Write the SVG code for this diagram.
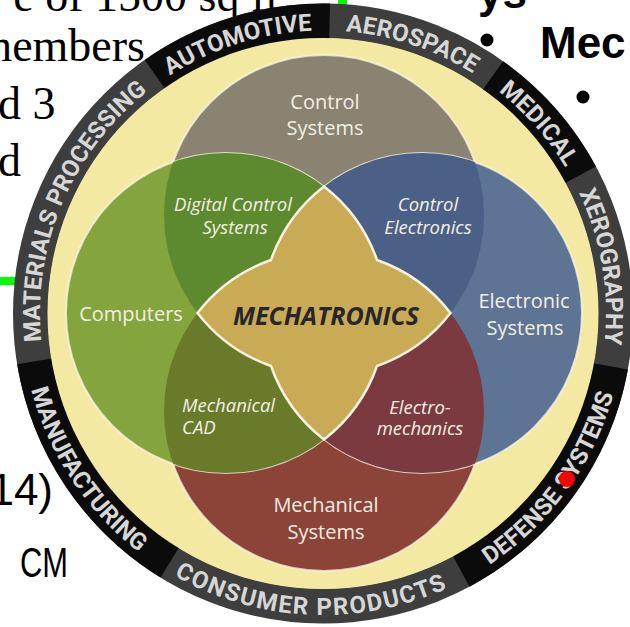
<svg xmlns="http://www.w3.org/2000/svg" xmlns:xlink="http://www.w3.org/1999/xlink" width="630" height="627" viewBox="0 0 630 627">
<style>
.serif{font-family:"Liberation Serif","Times New Roman",serif;font-size:46px;fill:#000}
.sans{font-family:"Liberation Sans",Arial,sans-serif;fill:#000}
.rt{font-family:Roboto,"Liberation Sans",sans-serif;font-weight:700;font-size:24px;fill:#d6d6d6}
.v{font-family:"Open Sans","Noto Sans",sans-serif;fill:#f3efe2;font-size:20px;text-anchor:middle}
.vi{font-style:italic;font-size:18.5px}
.seg{fill:none;stroke:#0b0b0b;stroke-width:35}
.circ{stroke:#fbf6e6;stroke-width:2;stroke-opacity:0.75}
</style>
<defs>
<clipPath id="cT"><circle cx="324" cy="215" r="160"/></clipPath>
<clipPath id="cB"><circle cx="324" cy="411" r="160"/></clipPath>
<clipPath id="cL"><circle cx="226" cy="313" r="160"/></clipPath>
<clipPath id="cR"><circle cx="422" cy="313" r="160"/></clipPath>
<path id="pAuto" d="M72.0,182.8 A283,283 0 0 1 453.7,62.5"/>
<path id="pAero" d="M195.8,60.7 A283,283 0 0 1 575.8,186.3"/>
<path id="pMed" d="M340.8,31.1 A283,283 0 0 1 605.4,331.3"/>
<path id="pXero" d="M487.3,83.1 A283,283 0 0 1 553.4,477.8"/>
<path id="pMat" d="M70.8,442.0 A283,283 0 0 1 240.3,42.9"/>
<path id="pDef" d="M370.2,611.3 A301.5,301.5 0 0 0 620.8,266.3"/>
<path id="pCons" d="M83.8,497.1 A301.5,301.5 0 0 0 545.3,517.2"/>
<path id="pManu" d="M27.6,253.4 A301.5,301.5 0 0 0 262.9,608.9"/>
</defs>

<g id="slide-text">
<text class="serif" x="279" y="11" text-anchor="end">e of 1500 sq ft</text>
<text class="serif" x="145" y="61" text-anchor="end">members</text>
<text class="serif" x="-2" y="119">d 3</text>
<text class="serif" x="-2" y="176">d</text>
<text class="sans" x="478" y="8" style="font-size:44px;font-weight:700">ys</text>
<circle cx="487" cy="40" r="6.5" fill="#000"/>
<text class="sans" x="540" y="58" style="font-size:44px;font-weight:700">Mec</text>
<circle cx="583" cy="97" r="6.5" fill="#000"/>
<text class="sans" x="53" y="505" text-anchor="end" style="font-size:44px">14)</text>
<text class="sans" x="20" y="577" textLength="48" lengthAdjust="spacingAndGlyphs" style="font-size:42px">CM</text>
<rect x="338" y="0" width="9" height="10" fill="#00ff00"/>
<rect x="0" y="277" width="18" height="8" fill="#00ff00"/>
</g>

<g id="ring">
<circle cx="323" cy="313.5" r="292.5" fill="none" stroke="#3e3e3e" stroke-width="35"/>
<path class="seg" d="M154.8,74.2 A292.5,292.5 0 0 1 329.6,21.1"/>
<path class="seg" d="M492.9,75.4 A292.5,292.5 0 0 1 580.5,174.8"/>
<path class="seg" d="M610.7,366.3 A292.5,292.5 0 0 1 461.2,571.3"/>
<path class="seg" d="M169.7,562.6 A292.5,292.5 0 0 1 34.4,361.3"/>
<circle cx="323" cy="313.5" r="275.5" fill="#f4e9a3"/>
<text class="rt"><textPath xlink:href="#pAuto" href="#pAuto" startOffset="50%" text-anchor="middle">AUTOMOTIVE</textPath></text>
<text class="rt"><textPath xlink:href="#pAero" href="#pAero" startOffset="50%" text-anchor="middle">AEROSPACE</textPath></text>
<text class="rt"><textPath xlink:href="#pMed" href="#pMed" startOffset="50%" text-anchor="middle">MEDICAL</textPath></text>
<text class="rt"><textPath xlink:href="#pXero" href="#pXero" startOffset="50%" text-anchor="middle">XEROGRAPHY</textPath></text>
<text class="rt"><textPath xlink:href="#pMat" href="#pMat" startOffset="50%" text-anchor="middle">MATERIALS PROCESSING</textPath></text>
<text class="rt"><textPath xlink:href="#pDef" href="#pDef" startOffset="50%" text-anchor="middle">DEFENSE SYSTEMS</textPath></text>
<text class="rt" style="letter-spacing:1.5px"><textPath xlink:href="#pCons" href="#pCons" startOffset="50%" text-anchor="middle">CONSUMER PRODUCTS</textPath></text>
<text class="rt"><textPath xlink:href="#pManu" href="#pManu" startOffset="50%" text-anchor="middle">MANUFACTURING</textPath></text>
</g>

<g id="venn">
<circle id="control-systems" class="circ" cx="324" cy="215" r="160" fill="#8a8372"/>
<circle id="mechanical-systems" class="circ" cx="324" cy="411" r="160" fill="#8b4437"/>
<circle id="computers" class="circ" cx="226" cy="313" r="160" fill="#84a43e"/>
<circle id="electronic-systems" class="circ" cx="422" cy="313" r="160" fill="#5e7494"/>
<circle id="digital-control" cx="226" cy="313" r="160" fill="#5d8a2f" clip-path="url(#cT)"/>
<circle id="control-electronics" cx="422" cy="313" r="160" fill="#4b6086" clip-path="url(#cT)"/>
<circle id="mechanical-cad" cx="226" cy="313" r="160" fill="#6a7a2b" clip-path="url(#cB)"/>
<circle id="electro-mechanics" cx="422" cy="313" r="160" fill="#7a3a3f" clip-path="url(#cB)"/>
<path id="mechatronics" d="M324,186.5 A160,160 0 0 1 377,260 A160,160 0 0 1 450.5,313 A160,160 0 0 1 377,366 A160,160 0 0 1 324,439.5 A160,160 0 0 1 271,366 A160,160 0 0 1 197.5,313 A160,160 0 0 1 271,260 A160,160 0 0 1 324,186.5 Z" fill="#c9ab55" stroke="#f6f1e1" stroke-width="2.5"/>
</g>

<g id="labels">
<g id="lbl-control-systems"><text class="v" x="325" y="109">Control</text><text class="v" x="325" y="135">Systems</text></g>
<g id="lbl-digital-control"><text class="v vi" x="233" y="211">Digital Control</text><text class="v vi" x="235" y="234">Systems</text></g>
<g id="lbl-control-electronics"><text class="v vi" x="428" y="211">Control</text><text class="v vi" x="428" y="234">Electronics</text></g>
<g id="lbl-computers"><text class="v" x="131" y="321">Computers</text></g>
<g id="lbl-mechatronics"><text class="v" x="326" y="325" style="fill:#26262c;font-weight:700;font-style:italic;font-size:25px">MECHATRONICS</text></g>
<g id="lbl-electronic-systems"><text class="v" x="524" y="308">Electronic</text><text class="v" x="525" y="335">Systems</text></g>
<g id="lbl-mechanical-cad"><text class="v vi" x="182" y="412" style="text-anchor:start">Mechanical</text><text class="v vi" x="182" y="434" style="text-anchor:start">CAD</text></g>
<g id="lbl-electro-mechanics"><text class="v vi" x="420" y="414">Electro-</text><text class="v vi" x="420" y="435">mechanics</text></g>
<g id="lbl-mechanical-systems"><text class="v" x="326" y="512">Mechanical</text><text class="v" x="326" y="539">Systems</text></g>
</g>

<circle id="pointer" cx="567" cy="479" r="8" fill="#ff0000"/>
</svg>
